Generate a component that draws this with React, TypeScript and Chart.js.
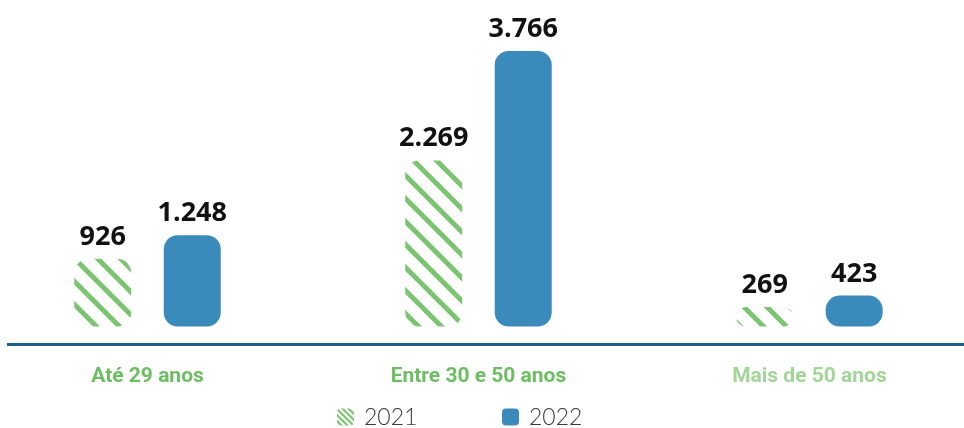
import React, { useEffect, useRef } from 'react';
import { Chart, registerables } from 'chart.js';

Chart.register(...registerables);

const categories = ['Até 29 anos', 'Entre 30 e 50 anos', 'Mais de 50 anos'];
const seriesLabels = ['2021', '2022'];
const values2021 = [926, 2269, 269];
const values2022 = [1248, 3766, 423];
const categoryColors = ['#6dbd62', '#6dbd62', '#a3d598'];

const GREEN = '#7cc472';
const BLUE = '#3a8bbc';

const fmt = (v: number) => String(v).replace(/\B(?=(\d{3})+(?!\d))/g, '.');

function makeHatch(period: number, lw: number, color: string) {
  const c = document.createElement('canvas');
  c.width = period;
  c.height = period;
  const g = c.getContext('2d')!;
  g.strokeStyle = color;
  g.lineWidth = lw;
  g.lineCap = 'square';
  for (const k of [-period, 0, period]) {
    g.beginPath();
    g.moveTo(-period, -period + k);
    g.lineTo(2 * period, 2 * period + k);
    g.stroke();
  }
  return g.createPattern(c, 'repeat')!;
}

export default function App() {
  const ref = useRef<HTMLCanvasElement>(null);

  useEffect(() => {
    const barPattern = makeHatch(23, 5, GREEN);
    const iconPattern = makeHatch(6, 2.2, GREEN);

    const valueLabels = {
      id: 'valueLabels',
      afterDatasetsDraw(chart: any) {
        const ctx = chart.ctx;
        ctx.save();
        ctx.font = '700 27px "Open Sans"';
        ctx.fillStyle = '#111111';
        ctx.textAlign = 'center';
        ctx.textBaseline = 'alphabetic';
        chart.data.datasets.forEach((ds: any, di: number) => {
          const meta = chart.getDatasetMeta(di);
          meta.data.forEach((bar: any, i: number) => {
            const v = ds.data[i].y;
            ctx.fillText(fmt(v), bar.x, bar.y - 14);
          });
        });
        ctx.restore();
      },
    };

    const legendX = [337, 502];
    const legend = {
      id: 'customLegend',
      afterDraw(chart: any) {
        const ctx = chart.ctx;
        ctx.save();
        ctx.font = '300 23px Lato';
        ctx.textAlign = 'left';
        ctx.textBaseline = 'middle';
        const box = 17;
        const cy = 417;
        chart.data.datasets.forEach((ds: any, i: number) => {
          const x = legendX[i];
          ctx.fillStyle = i === 0 ? iconPattern : ds.backgroundColor;
          ctx.beginPath();
          ctx.roundRect(x, cy - box / 2, box, box, 4);
          ctx.fill();
          ctx.fillStyle = '#3a3a3a';
          ctx.fillText(ds.label, x + box + 10, cy + 1);
        });
        ctx.restore();
      },
    };

    const chart = new Chart(ref.current!, {
      type: 'bar',
      data: {
        datasets: [
          {
            label: seriesLabels[0],
            data: values2021.map((y, i) => ({ x: i, y })),
            backgroundColor: barPattern as any,
            borderRadius: 14,
            borderSkipped: false,
            categoryPercentage: 0.5408,
            barPercentage: 0.637,
          },
          {
            label: seriesLabels[1],
            data: values2022.map((y, i) => ({ x: i, y })),
            backgroundColor: BLUE,
            borderRadius: 14,
            borderSkipped: false,
            categoryPercentage: 0.5408,
            barPercentage: 0.637,
          },
        ],
      },
      options: {
        animation: false,
        responsive: true,
        maintainAspectRatio: false,
        layout: { padding: { left: 8, right: 0, top: 10, bottom: 19.3 } },
        plugins: {
          legend: { display: false },
          tooltip: { enabled: false },
        },
        scales: {
          x: {
            type: 'linear',
            offset: false,
            min: -0.4215,
            max: 2.467,
            afterBuildTicks: (scale: any) => {
              scale.ticks = categories.map((_, i) => ({ value: i }));
            },
            grid: { display: false, drawTicks: false, offset: false },
            border: { display: true, color: '#1c5d89', width: 3 },
            ticks: {
              padding: 19.5,
              autoSkip: false,
              maxRotation: 0,
              callback: (v: any) => categories[Math.round(Number(v))],
              color: (c: any) => categoryColors[c.index] || categoryColors[0],
              font: { family: 'Roboto, sans-serif', weight: 'bold', size: 21 },
            },
          },
          y: {
            display: false,
            min: -245,
            max: 4325,
          },
        },
      },
      plugins: [valueLabels, legend],
    });
    return () => chart.destroy();
  }, []);

  return (
    <div style={{ position: 'absolute', left: 0, top: 0, width: 964, height: 428 }}>
      <canvas ref={ref} />
    </div>
  );
}
